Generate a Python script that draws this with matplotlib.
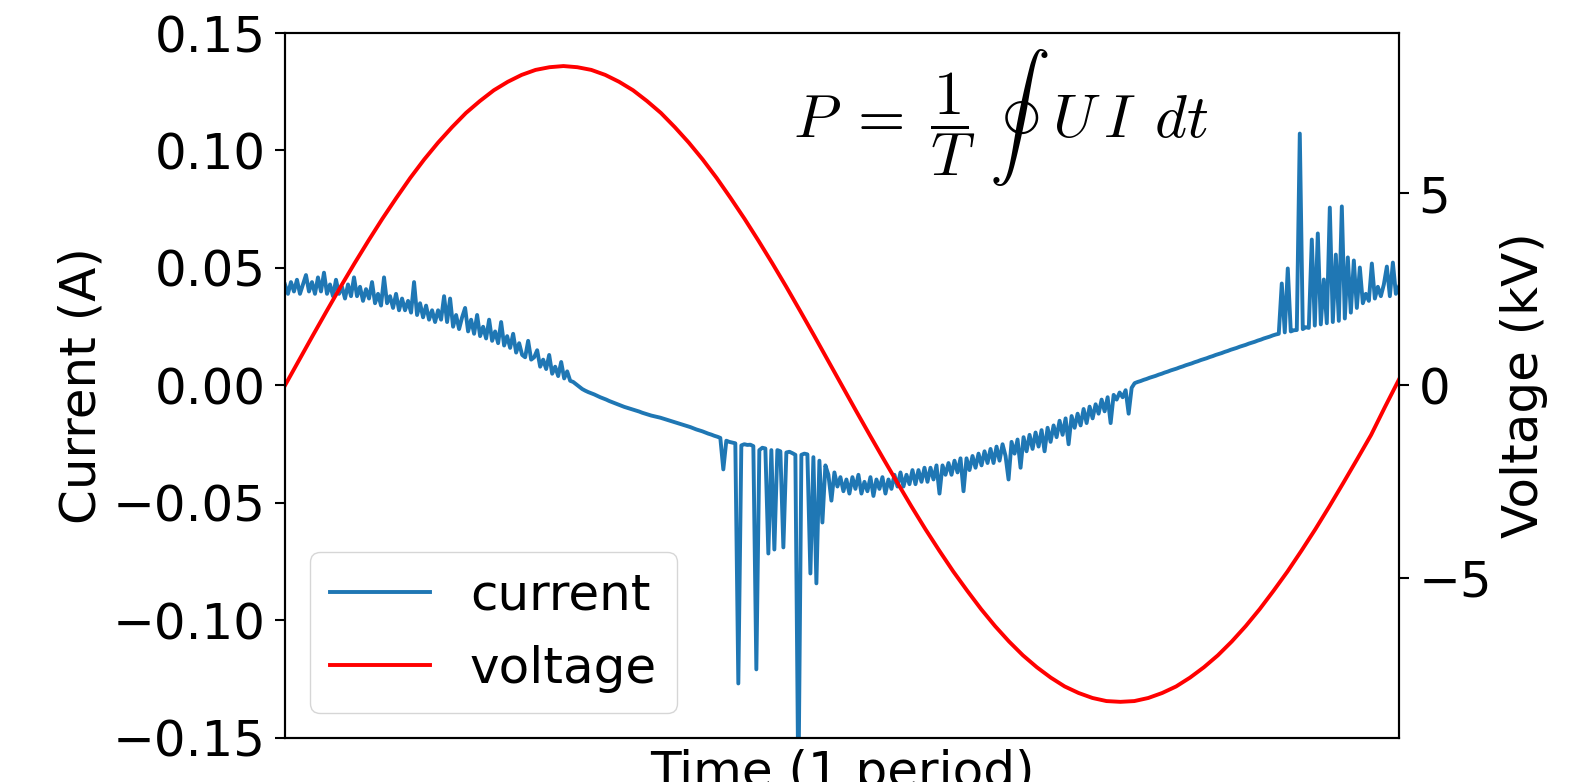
import matplotlib
matplotlib.use("Agg")
import matplotlib.pyplot as plt
import numpy as np

# current trace over one period, in mA (evenly spaced in time)
current_mA = [
    # noisy positive part
    43, 39, 44, 40, 45, 39, 43, 47, 40, 44, 39, 46, 40, 48, 39, 43, 38, 45, 39, 42,
    37, 43, 38, 46, 38, 42, 36, 41, 37, 44, 35, 39, 34, 46, 35, 38, 33, 39, 32, 37,
    32, 36, 31, 44, 30, 35, 29, 34, 28, 32, 27, 32, 28, 38, 27, 37, 25, 30, 24, 29,
    33, 23, 28, 22, 30, 21, 25, 20, 28, 19, 23, 18, 27, 17, 21, 16, 22, 14, 18, 13,
    12, 19, 11, 12, 15, 8, 11, 7, 13, 5, 8, 4, 10, 3, 6, 2,
    # quiet decline
    1.5, 0.5, -0.5, -1.5, -2.2, -2.8, -3.3, -3.8, -4.4, -5.0, -5.5, -6.0, -6.6, -7.1,
    -7.6, -8.1, -8.6, -9.1, -9.5, -9.9, -10.3, -10.7, -11.1, -11.6, -12.0, -12.4,
    -12.8, -13.1, -13.4, -13.7, -14.1, -14.5, -14.9, -15.3, -15.7, -16.1, -16.5,
    -16.9, -17.3, -17.7, -18.2, -18.7, -19.1, -19.5, -20.0, -20.5, -20.9, -21.4, -21.8,
    # negative discharge pulses
    -22.3, -35.7, -23.5, -24.0, -24.3, -24.6, -126.8, -25.5, -25.0, -25.3, -25.2,
    -25.8, -120.8, -27.5, -26.5, -26.8, -71.5, -27.5, -69.8, -27.5, -28.0, -68.9,
    -28.5, -28.2, -28.8, -29.5, -175.0, -29.5, -29.0, -29.3, -80.0, -30.5, -84.2,
    -32.0, -58.3, -34.0, -38.0, -49.0,
    # noisy negative part
    -37, -43, -39, -45, -40, -46, -39, -44, -38, -46, -41, -45, -39, -47, -40, -44, -39,
    -46, -40, -44, -38, -43, -37, -43, -38, -42, -36, -42, -36, -41, -35, -41, -35, -40, -34,
    -46, -34, -38, -33, -38, -32, -37, -31, -45, -31, -36, -30, -35, -29, -34, -28, -33,
    -27, -33, -26, -32, -25, -30,
    -40, -24, -29, -23, -35, -22, -28, -21, -27, -20, -26, -19, -28, -18, -24, -17, -22,
    -15, -21, -14,
    -25, -13, -18, -12, -17, -10, -16, -9, -14, -8, -12, -6, -11, -5, -16, -4, -6, -3,
    -5, -2, -12, -1,
    # quiet rise
    1.0, 1.5, 1.9, 2.4, 2.8, 3.3, 3.7, 4.1, 4.6, 5.0, 5.5, 5.9, 6.4, 6.8, 7.2, 7.7,
    8.1, 8.6, 9.0, 9.4, 9.9, 10.3, 10.8, 11.2, 11.6, 12.1, 12.5, 13.0, 13.4, 13.8,
    14.3, 14.7, 15.2, 15.6, 16.0, 16.5, 16.9, 17.3, 17.8, 18.2, 18.6, 19.1, 19.5,
    20.0, 20.4, 20.8, 21.3, 21.7,
    # positive discharge pulses
    22.0, 43.4, 22.6, 49.8, 23.0, 23.5, 23.6, 107.2, 24.0, 24.8, 24.5, 62.1, 25.5,
    64.7, 26.0, 45.1, 26.5, 75.7, 27.0, 55.7, 27.5, 76.2, 28.5, 54.5, 31.0, 53.2,
    33.0, 50.2, 35.0, 39.0, 36.0, 51.9, 37.0, 42.0, 38.0, 43.0, 50.6, 38.0, 52.3,
    39.0, 42.0,
]

# applied voltage in kV, evenly spaced over the same period
voltage_kV = [
    0.00, 0.65, 1.30, 1.94, 2.57, 3.18, 3.77, 4.34, 4.88, 5.40, 5.88, 6.32, 6.72, 7.09,
    7.40, 7.68, 7.90, 8.08, 8.21, 8.28, 8.31, 8.28, 8.21, 8.08, 7.90, 7.68, 7.40, 7.09,
    6.72, 6.32, 5.88, 5.40, 4.88, 4.34, 3.77, 3.18, 2.57, 1.94, 1.30, 0.65, 0.00,
    -0.65, -1.29, -1.92, -2.54, -3.15, -3.74, -4.30, -4.84, -5.34, -5.82, -6.26, -6.66,
    -7.02, -7.33, -7.60, -7.83, -8.00, -8.13, -8.21, -8.23, -8.21, -8.13, -8.00, -7.83,
    -7.60, -7.33, -7.02, -6.66, -6.26, -5.82, -5.34, -4.84, -4.30, -3.74, -3.15, -2.54,
    -1.92, -1.29, -0.56, 0.15,
]

cur = np.array(current_mA) / 1000.0
t_cur = np.linspace(0, 1, len(cur))
t_volt = np.linspace(0, 1, len(voltage_kV))

fs = 36
plt.rcParams['font.size'] = fs
plt.rcParams['mathtext.fontset'] = 'cm'
plt.rcParams['axes.linewidth'] = 1.5

fig = plt.figure(figsize=(15.7, 7.82), dpi=100)
ax = fig.add_axes([0.1815, 0.0563, 0.7095, 0.9015])

l1, = ax.plot(t_cur, cur, color='C0', linewidth=2.8, label='current')
ax.set_xlim(0, 1)
ax.set_ylim(-0.15, 0.15)
ax.set_yticks([-0.15, -0.10, -0.05, 0.0, 0.05, 0.10, 0.15])
ax.set_xticks([])
ax.tick_params(length=7, width=1.5, pad=7)
ax.set_ylabel('Current (A)', labelpad=5)
ax.set_xlabel('Time (1 period)', labelpad=8)

ax2 = ax.twinx()
l2, = ax2.plot(t_volt, voltage_kV, color='red', linewidth=2.8, label='voltage')
ax2.set_ylim(-9.17, 9.17)
ax2.set_yticks([-5, 0, 5])
ax2.tick_params(length=7, width=1.5, pad=7)
ax2.set_ylabel('Voltage (kV)', labelpad=6)

ax.text(0.642, 0.88, r'$P\;=\;\dfrac{1}{T}\;\oint\;\;U\,I\;\,dt$', transform=ax.transAxes,
        ha='center', va='center', fontsize=44)

ax2.legend(handles=[l1, l2], loc='lower left')

fig.savefig('out.png', dpi=100)
